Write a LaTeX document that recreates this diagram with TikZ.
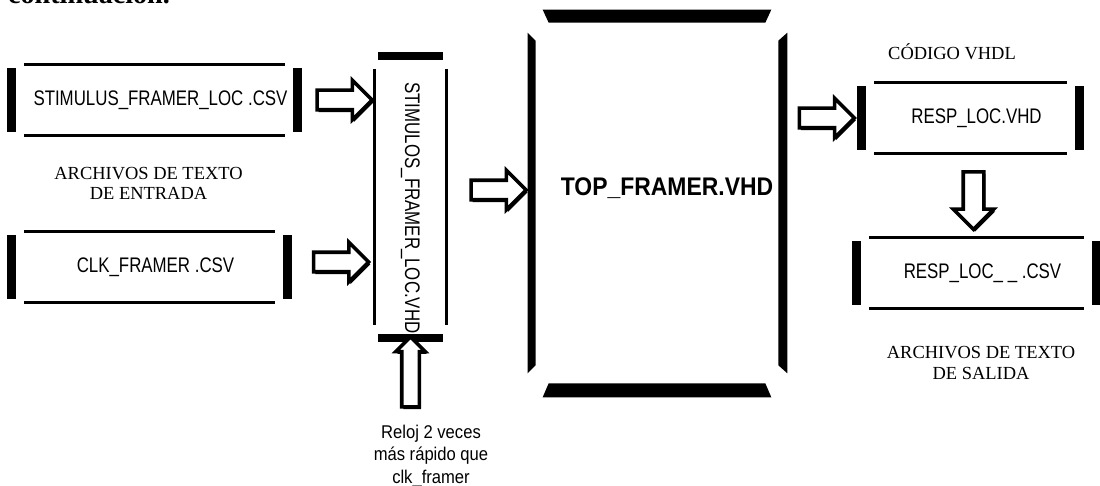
\documentclass[tikz,border=0pt]{standalone}
\usepackage{fontspec}
\setmainfont{Liberation Serif}
\newfontfamily\boxfont[FakeStretch=0.8]{Liberation Sans}
\newfontfamily\topfont[FakeStretch=0.9]{Liberation Sans}
\newfontfamily\notefont[FakeStretch=0.9]{Liberation Sans}
\usepackage{tikz}
\usetikzlibrary{shapes.arrows, calc, shadows}

% thin rules on the long sides, heavy bars on the short sides
\newcommand{\fileframe}[1]{
    \draw [rule] (#1.north west) -- (#1.north east);
    \draw [rule] (#1.south west) -- (#1.south east);
    \draw [bar] ($(#1.north west)!-2.4pt!(#1.north east)$) -- ($(#1.south west)!-2.4pt!(#1.south east)$);
    \draw [bar] ($(#1.north east)!-2.4pt!(#1.north west)$) -- ($(#1.south east)!-2.4pt!(#1.south west)$);
}

% four bevelled bars round the main block
\newcommand{\topframe}[1]{
    \fill ([shift={(7,-13)}]#1.north west) -- ([shift={(-7,-13)}]#1.north east) -- ([shift={(-13,0)}]#1.north east) -- ([shift={(13,0)}]#1.north west) -- cycle;
    \fill ([shift={(13,0)}]#1.south west) -- ([shift={(-13,0)}]#1.south east) -- ([shift={(-7,14)}]#1.south east) -- ([shift={(7,14)}]#1.south west) -- cycle;
    \fill ([shift={(-8,10)}]#1.north west) -- ([shift={(0,18)}]#1.north west) -- ([shift={(0,-18)}]#1.south west) -- ([shift={(-8,-10)}]#1.south west) -- cycle;
    \fill ([shift={(9,10)}]#1.north east) -- ([shift={(0,18)}]#1.north east) -- ([shift={(0,-18)}]#1.south east) -- ([shift={(9,-10)}]#1.south east) -- cycle;
}

\begin{document}
\begin{tikzpicture}[x=0.02cm, y=-0.02cm]
    \tikzstyle{filebox} = [rectangle, minimum height=1.4cm, inner sep=0pt, font=\boxfont\fontsize{12}{14}\selectfont, execute at begin node=\hspace*{0.24cm}]
    \tikzstyle{vbox} = [rectangle, minimum width=5.4cm, minimum height=1.42cm, inner sep=0pt, rotate=-90, font=\boxfont\fontsize{12}{14}\selectfont, execute at begin node=\hspace*{0.44cm}]
    \tikzstyle{mainbox} = [rectangle, minimum width=4.84cm, minimum height=7.2cm, inner sep=0pt, text depth=0.64cm, font=\topfont\bfseries\fontsize{14.5}{16}\selectfont, execute at begin node=\hspace*{0.4cm}]
    \tikzstyle{caption} = [align=center, font=\fontsize{10.5}{11.6}\selectfont]
    \tikzstyle{note} = [align=center, font=\notefont\fontsize{10.5}{13}\selectfont]
    \tikzstyle{rule} = [line width=1.4pt, shorten <=5pt, shorten >=5pt]
    \tikzstyle{bar} = [line width=4.8pt, shorten <=2pt, shorten >=2pt]
    \tikzstyle{fatarrow} = [single arrow, draw, fill=white, line width=2pt, inner sep=0pt, inner ysep=0.16cm, single arrow head extend=0.2cm, single arrow head indent=0pt, minimum height=1.1cm, drop shadow={shadow xshift=0.9pt, shadow yshift=-1.3pt, opacity=1, fill=black}]

    \useasboundingbox (0,0) rectangle (1100,486);
    \clip (0,0) rectangle (1100,486);

    \node [anchor=base west, font=\bfseries\fontsize{16}{18}\selectfont] (cont) at (2,4) {continuación.};

    \node [filebox, minimum width=5.54cm] (stim) at (154.5,100) {STIMULUS\_FRAMER\_LOC .CSV};
    \node [caption] (inlbl) at (148.5,183.5) {ARCHIVOS DE TEXTO\\DE ENTRADA};
    \node [filebox, minimum width=5.34cm] (clk) at (149.5,267) {CLK\_FRAMER .CSV};
    \node [vbox] (stimvhd) at (410.5,197) {STIMULOS\_FRAMER\_LOC.VHD};
    \node [note] (clock) at (431,456) {Reloj 2 veces\\más rápido que\\clk\_framer};
    \node [mainbox] (top) at (657,203) {TOP\_FRAMER.VHD};
    \node [caption] (vhdl) at (952,52) {CÓDIGO VHDL};
    \node [filebox, minimum width=4.18cm] (resp) at (970.5,118) {RESP\_LOC.VHD};
    \node [filebox, minimum width=4.62cm] (csv) at (976.5,273) {RESP\_LOC\_ \_ .CSV};
    \node [caption] (outlbl) at (981,363) {ARCHIVOS DE TEXTO\\DE SALIDA};

    \fileframe{stim}
    \fileframe{clk}
    \fileframe{stimvhd}
    \fileframe{resp}
    \fileframe{csv}
    \topframe{top}

    \path (stim.east) -- node [fatarrow, pos=0.57] (a1) {} (stim.east -| stimvhd.south);
    \path ([yshift=0.1cm]clk.east) -- node [fatarrow, pos=0.58] (a2) {} ([yshift=0.1cm]clk.east -| stimvhd.south);
    \path ([yshift=0.14cm]stimvhd.north) -- node [fatarrow, pos=0.53] (a3) {} ([yshift=0.14cm]stimvhd.north -| top.west);
    \path (top.east |- resp.west) -- node [fatarrow] (a4) {} (resp.west);
    \path (resp.south) -- node [fatarrow, rotate=-90, inner ysep=0.17cm, minimum height=1.15cm] (a5) {} (csv.north);
    \path (clock.north -| stimvhd.east) -- node [fatarrow, rotate=90, inner ysep=0.14cm, single arrow head extend=0.12cm, minimum height=1.4cm] (a6) {} (stimvhd.east);
\end{tikzpicture}
\end{document}
